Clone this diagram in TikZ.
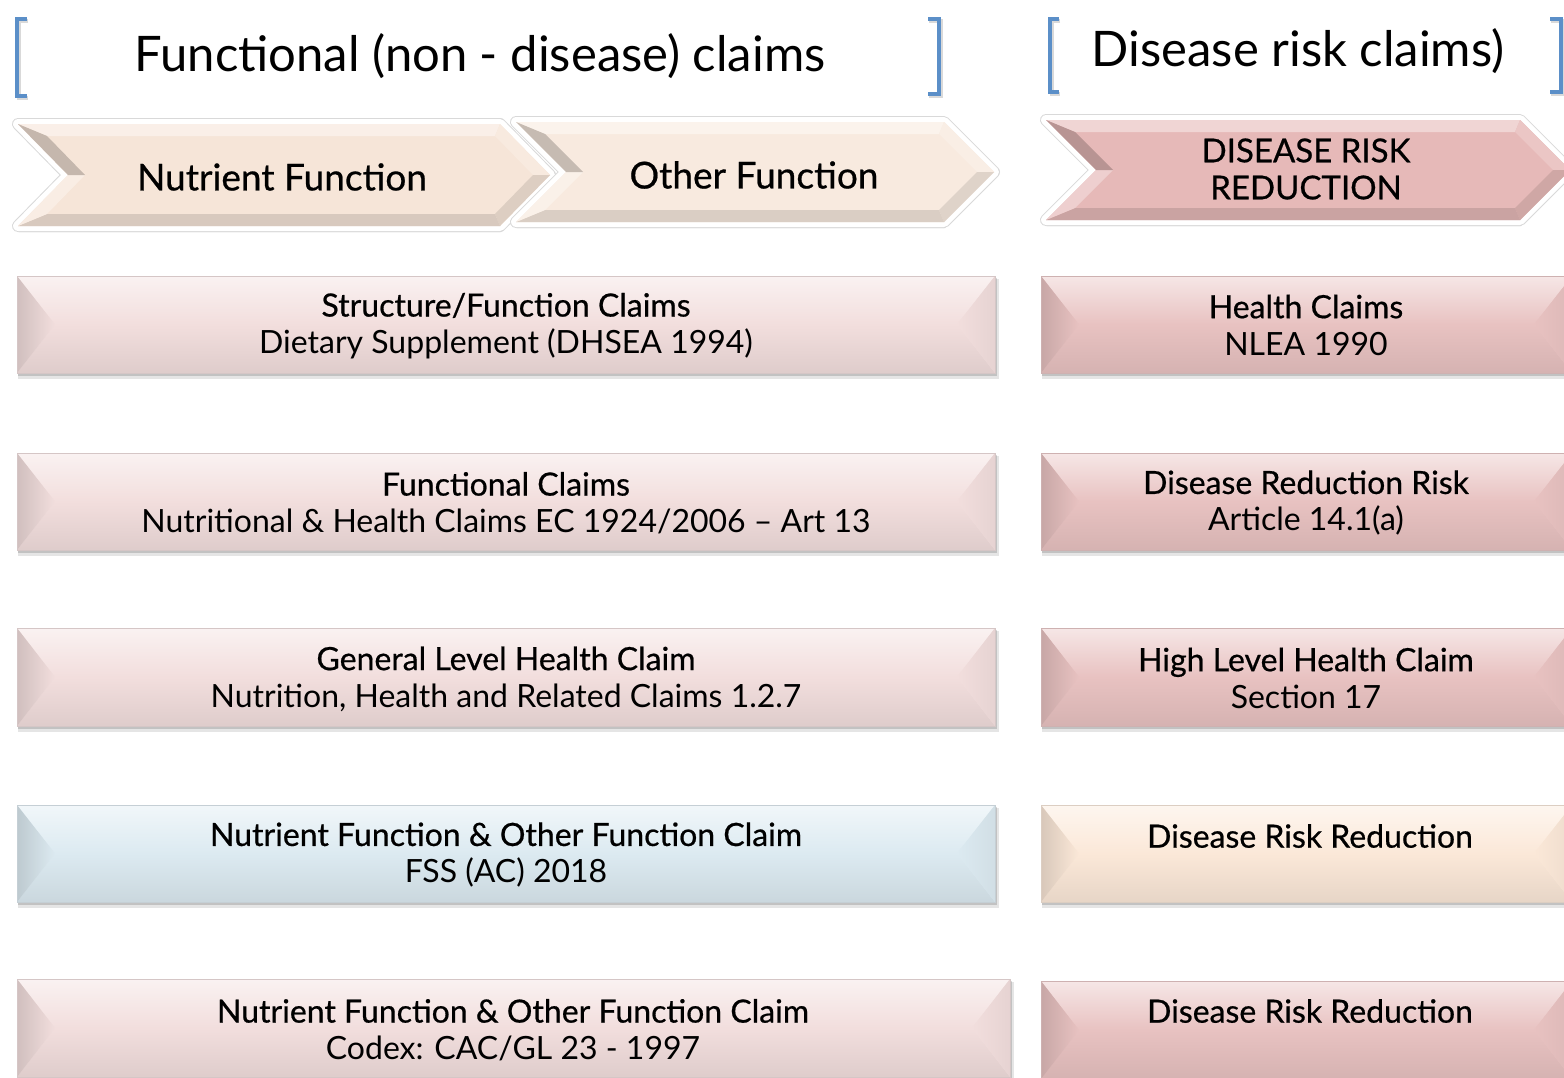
\documentclass[tikz,border=0pt]{standalone}
\usepackage{fontspec}
\setmainfont{Lato}
\newfontfamily\medfont[FakeBold=0.6]{Lato}
\definecolor{bracketblue}{HTML}{5B8FC8}
\definecolor{beige}{HTML}{F6E5D8}
\definecolor{beigeb}{HTML}{F8EADF}
\definecolor{rosechev}{HTML}{E6B9B8}
\definecolor{lightpink}{HTML}{F2DEDD}
\definecolor{rosebox}{HTML}{E8C2C1}
\definecolor{lightblue}{HTML}{DCEAF1}
\definecolor{peach}{HTML}{FBE8D8}
\tikzset{
  brk/.style={draw=bracketblue, line width=4.5pt, line cap=butt, line join=miter},
  brkshadow/.style={draw=black, opacity=0.15, line width=4.5pt, line cap=butt, line join=miter},
  titletext/.style={font=\fontsize{49}{52}\selectfont, inner sep=0},
  chevtext/.style={font=\medfont\fontsize{37}{40}\selectfont, align=center, inner sep=0},
  chevtextb/.style={font=\medfont\fontsize{33}{37}\selectfont, align=center, inner sep=0},
  boxtext/.style={font=\fontsize{32}{37}\selectfont, align=center, inner sep=0},
}
% bevelled box: x1,y1,x2,y2,colour,name
\newcommand{\bevbox}[6]{%
  \fill[black,opacity=0.10] ({#1+1},{#2+3}) rectangle ({#3+4},{#4+6});
  \fill[black,opacity=0.15] ({#1+1},{#2+2}) rectangle ({#3+2},{#4+3});
  \fill[#5] (#1,#2) rectangle (#3,#4);
  \shade[top color=#5!40!white, bottom color=#5] (#1,#2) -- (#3,#2) -- ({#3-38},{(#2+#4)/2}) -- ({#1+38},{(#2+#4)/2}) -- cycle;
  \shade[top color=#5, bottom color=#5!92!black] (#1,#4) -- (#3,#4) -- ({#3-38},{(#2+#4)/2}) -- ({#1+38},{(#2+#4)/2}) -- cycle;
  \shade[left color=#5!86!black, right color=#5] (#1,#2) -- ({#1+38},{(#2+#4)/2}) -- (#1,#4) -- cycle;
  \shade[right color=#5!95!black, left color=#5] (#3,#2) -- ({#3-38},{(#2+#4)/2}) -- (#3,#4) -- cycle;
  \draw[#5!75!gray, line width=0.8pt] (#1,#2) rectangle (#3,#4);
  \node[inner sep=0, minimum width={#3-#1}, minimum height={#4-#2}] (#6) at ({(#1+#3)/2},{(#2+#4)/2}) {};
}
% chevron: x1,y1,x2,y2,a,colour,name  (x2 = x of the right top corner, tip at x2+a)
\newcommand{\chev}[7]{%
  \coordinate (TL) at (#1,#2);
  \coordinate (TR) at (#3,#2);
  \coordinate (TP) at ({#3+#5},{(#2+#4)/2});
  \coordinate (BR) at (#3,#4);
  \coordinate (BL) at (#1,#4);
  \coordinate (NT) at ({#1+#5},{(#2+#4)/2});
  \coordinate (TLi) at ({#1+29},{#2+12});
  \coordinate (TRi) at ({#3-5},{#2+12});
  \coordinate (TPi) at ({#3+#5-17},{(#2+#4)/2});
  \coordinate (BRi) at ({#3-5},{#4-12});
  \coordinate (BLi) at ({#1+29},{#4-12});
  \coordinate (NTi) at ({#1+#5+17},{(#2+#4)/2});
  \fill[black,opacity=0.15] ([shift={(1,6)}]TL) -- ([shift={(1,6)}]TR) -- ([shift={(1,6)}]TP) -- ([shift={(1,6)}]BR) -- ([shift={(1,6)}]BL) -- ([shift={(1,6)}]NT) -- cycle;
  \draw[gray!30, line width=12pt, line join=round] (TL) -- (TR) -- (TP) -- (BR) -- (BL) -- (NT) -- cycle;
  \draw[white, line width=10pt, line join=round] (TL) -- (TR) -- (TP) -- (BR) -- (BL) -- (NT) -- cycle;
  \fill[#6] (TL) -- (TR) -- (TP) -- (BR) -- (BL) -- (NT) -- cycle;
  \fill[#6!60!white] (TL) -- (TR) -- (TRi) -- (TLi) -- cycle;
  \fill[#6!82!white] (TR) -- (TP) -- (TPi) -- (TRi) -- cycle;
  \fill[#6!90!black] (TP) -- (BR) -- (BRi) -- (TPi) -- cycle;
  \fill[#6!88!black] (BR) -- (BL) -- (BLi) -- (BRi) -- cycle;
  \fill[#6!68!white] (BL) -- (NT) -- (NTi) -- (BLi) -- cycle;
  \fill[#6!80!black] (NT) -- (TL) -- (TLi) -- (NTi) -- cycle;
  \node[inner sep=0, minimum width={#3-#1}, minimum height={#4-#2}] (#7) at ({(#1+#3+#5)/2},{(#2+#4)/2}) {};
}
\begin{document}
\begin{tikzpicture}[x=1pt,y=-1pt]
\useasboundingbox (0,0) rectangle (1564,1077);
\clip (0,0) rectangle (1564,1077);
\fill[white] (0,0) rectangle (1564,1077);

% brackets and titles
\draw[brkshadow] (28,21) -- (19,21) -- (19,98) -- (28,98);
\draw[brkshadow] (929,21) -- (941,21) -- (941,96) -- (929,96);
\draw[brkshadow] (1060,21) -- (1052,21) -- (1052,94) -- (1060,94);
\draw[brkshadow] (1551,21) -- (1563,21) -- (1563,94) -- (1551,94);
\draw[brk] (27,19) -- (17,19) -- (17,96) -- (27,96);
\draw[brk] (928,19) -- (939,19) -- (939,94) -- (928,94);
\draw[brk] (1059,19) -- (1050,19) -- (1050,92) -- (1059,92);
\draw[brk] (1550,19) -- (1561,19) -- (1561,92) -- (1550,92);
\node[titletext] (t1) at (480,56) {Functional (non - disease) claims};
\node[titletext] (t2) at (1298,51) {Disease risk claims)};

% chevrons
\chev{18}{124}{500}{226}{50}{beige}{c1}
\chev{516}{122}{944}{222}{50}{beigeb}{c2}
\chev{1046}{120}{1520}{220}{50}{rosechev}{c3}
\node[chevtext] (c1t) at (282,177) {Nutrient Function};
\node[chevtext] (c2t) at (754,175) {Other Function};
\node[chevtextb] (c3t) at (1306,169) {DISEASE RISK\\REDUCTION};

% left column boxes
\bevbox{17}{276}{995}{373}{lightpink}{l1}
\bevbox{17}{453}{995}{550}{lightpink}{l2}
\bevbox{17}{628}{995}{726}{lightpink}{l3}
\bevbox{17}{805}{995}{902}{lightblue}{l4}
\bevbox{17}{979}{1010}{1077}{lightpink}{l5}
% right column boxes
\bevbox{1041}{276}{1572}{373}{rosebox}{r1}
\bevbox{1041}{453}{1572}{550}{rosebox}{r2}
\bevbox{1041}{628}{1572}{726}{rosebox}{r3}
\bevbox{1041}{805}{1572}{902}{peach}{r4}
\bevbox{1041}{981}{1572}{1079}{rosebox}{r5}

\node[boxtext] (l1t) at (506,326) {{\medfont Structure/Function Claims}\\Dietary Supplement (DHSEA 1994)};
\node[boxtext] (l2t) at (506,503) {{\medfont Functional Claims}\\Nutritional \& Health Claims EC 1924/2006 -- Art 13};
\node[boxtext] (l3t) at (506,679) {{\medfont General Level Health Claim}\\Nutrition, Health and Related Claims 1.2.7};
\node[boxtext] (l4t) at (506,855) {{\medfont Nutrient Function \& Other Function Claim}\\FSS (AC) 2018};
\node[boxtext] (l5t) at (513,1030) {{\medfont Nutrient Function \& Other Function Claim}\\Codex: CAC/GL 23 - 1997};

\node[boxtext] (r1t) at (1306,325) {{\medfont Health Claims}\\NLEA 1990};
\node[boxtext] (r2t) at (1306,503) {{\medfont Disease Reduction Risk}\\Article 14.1(a)};
\node[boxtext] (r3t) at (1306,678) {{\medfont High Level Health Claim}\\Section 17};
\node[boxtext, font=\medfont\fontsize{32}{37}\selectfont] (r4t) at (1310,836) {Disease Risk Reduction};
\node[boxtext, font=\medfont\fontsize{32}{37}\selectfont] (r5t) at (1310,1011) {Disease Risk Reduction};
\end{tikzpicture}
\end{document}
